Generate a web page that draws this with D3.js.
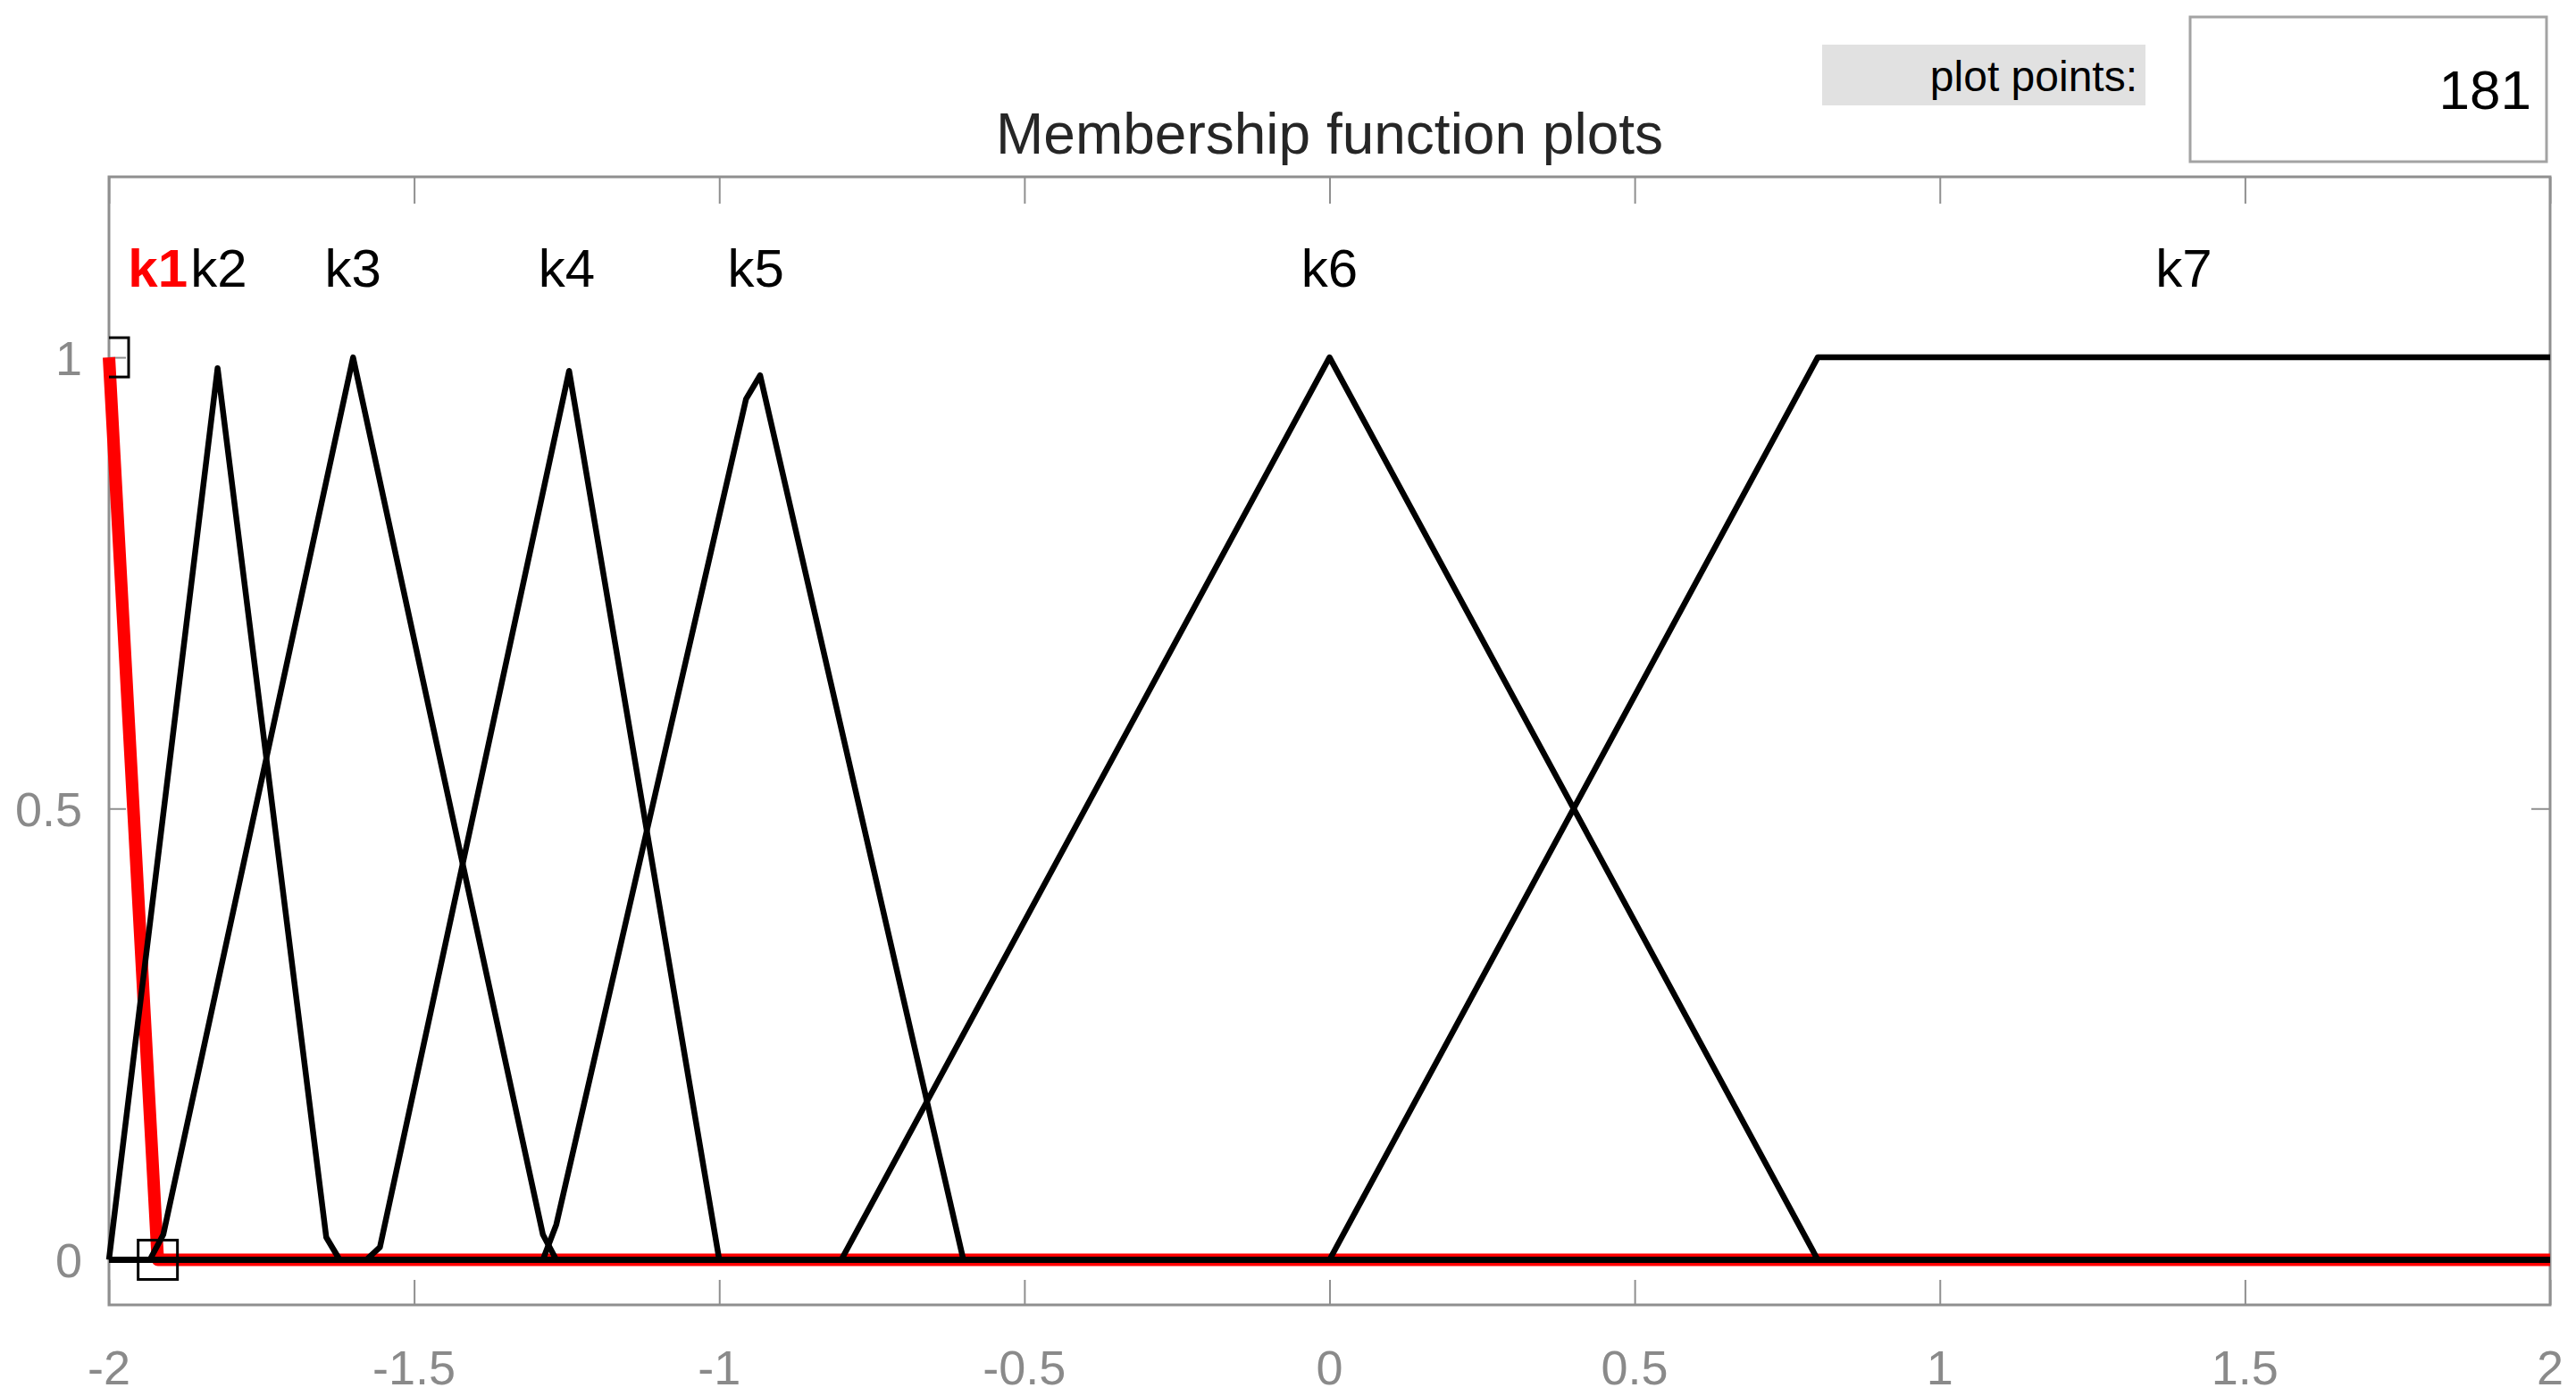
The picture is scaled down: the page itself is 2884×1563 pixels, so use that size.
<!DOCTYPE html>
<html>
<head>
<meta charset="utf-8">
<script src="https://cdn.jsdelivr.net/npm/d3@7"></script>
<style>
  body { margin: 0; background: #fff; }
  text { font-family: "Liberation Sans", Arial, sans-serif; }
</style>
</head>
<body>
<div id="chart"></div>
<script>
// membership functions, vertices (181 plot points)
const mfNames = ["k1", "k2", "k3", "k4", "k5", "k6", "k7"];
const labelX = [-1.92, -1.82, -1.6, -1.25, -0.94, 0, 1.4];
const k1Pts = [[-2, 1], [-1.92, 0], [2, 0]];
const k2Pts = [[-2, 0], [-1.822, 0.988], [-1.644, 0.025], [-1.622, 0], [2, 0]];
const k3Pts = [[-2, 0], [-1.933, 0], [-1.911, 0.028], [-1.6, 1], [-1.289, 0.028], [-1.267, 0], [2, 0]];
const k4Pts = [[-2, 0], [-1.578, 0], [-1.556, 0.014], [-1.246, 0.985], [-1.0, 0], [2, 0]];
const k5Pts = [[-2, 0], [-1.289, 0], [-1.267, 0.039], [-0.956, 0.954], [-0.933, 0.98], [-0.6, 0], [2, 0]];
const k6Pts = [[-2, 0], [-0.8, 0], [0, 1], [0.8, 0], [2, 0]];
const k7Pts = [[-2, 0], [0, 0], [0.8, 1], [2, 1]];
const selectedMarks = [[-2, 1], [-1.92, 0]];

const xTicks = [-2, -1.5, -1, -0.5, 0, 0.5, 1, 1.5, 2];
const yTicks = [0, 0.5, 1];
const plotPoints = "181";

const width = 2884;
const height = 1563;
const plotLeft = 122, plotRight = 2855, plotTop = 198, plotBottom = 1461;

const x = d3.scaleLinear().domain([-2, 2]).range([plotLeft, plotRight]);
const y = d3.scaleLinear().domain([-0.05, 1.2]).range([plotBottom, plotTop]);

const svg = d3.select("#chart")
    .append("svg")
    .attr("width", width)
    .attr("height", height);

svg.append("defs").append("clipPath")
    .attr("id", "plotclip")
    .append("rect")
    .attr("x", plotLeft).attr("y", plotTop)
    .attr("width", plotRight - plotLeft).attr("height", plotBottom - plotTop);

// axes box
svg.append("rect")
    .attr("x", plotLeft).attr("y", plotTop)
    .attr("width", plotRight - plotLeft).attr("height", plotBottom - plotTop)
    .attr("fill", "#fff")
    .attr("stroke", "#8f8f8f")
    .attr("stroke-width", 3);

// ticks (inside, mirrored)
const tickColor = "#8f8f8f";
const xAxisBottom = d3.axisBottom(x).tickValues(xTicks).tickSize(-28).tickFormat("");
const xAxisTop = d3.axisTop(x).tickValues(xTicks).tickSize(-30).tickFormat("");
const yAxisLeft = d3.axisLeft(y).tickValues(yTicks).tickSize(-19).tickFormat("");
const yAxisRight = d3.axisRight(y).tickValues(yTicks).tickSize(-21).tickFormat("");

function styleAxis(g) {
    g.select(".domain").remove();
    g.selectAll(".tick line").attr("stroke", tickColor).attr("stroke-width", 2);
}
svg.append("g").attr("transform", `translate(0,${plotBottom})`).call(xAxisBottom).call(styleAxis);
svg.append("g").attr("transform", `translate(0,${plotTop})`).call(xAxisTop).call(styleAxis);
svg.append("g").attr("transform", `translate(${plotLeft},0)`).call(yAxisLeft).call(styleAxis);
svg.append("g").attr("transform", `translate(${plotRight},0)`).call(yAxisRight).call(styleAxis);

// tick labels
svg.append("g").selectAll("text")
    .data(xTicks)
    .enter()
    .append("text")
    .attr("x", d => x(d))
    .attr("y", 1550)
    .attr("text-anchor", "middle")
    .attr("font-size", 54)
    .attr("fill", "#8a8a8a")
    .text(d => d);

svg.append("g").selectAll("text")
    .data(yTicks)
    .enter()
    .append("text")
    .attr("x", 92)
    .attr("y", d => y(d))
    .attr("dy", "0.36em")
    .attr("text-anchor", "end")
    .attr("font-size", 54)
    .attr("fill", "#8a8a8a")
    .text(d => d);

// curves
const line = d3.line()
    .x(d => x(d[0]))
    .y(d => y(d[1]));

const blackCurves = [k2Pts, k3Pts, k4Pts, k5Pts, k6Pts, k7Pts];

svg.append("path")
    .datum(k1Pts)
    .attr("d", line)
    .attr("fill", "none")
    .attr("stroke", "#ff0000")
    .attr("stroke-width", 14)
    .attr("stroke-linejoin", "round");

svg.append("g").selectAll("path")
    .data(blackCurves)
    .enter()
    .append("path")
    .attr("d", line)
    .attr("fill", "none")
    .attr("stroke", "#000")
    .attr("stroke-width", 6.5)
    .attr("stroke-linejoin", "round");

// vertex squares of the selected function
svg.append("g")
    .attr("clip-path", "url(#plotclip)")
    .selectAll("rect")
    .data(selectedMarks)
    .enter()
    .append("rect")
    .attr("x", d => x(d[0]) - 22)
    .attr("y", d => y(d[1]) - 22)
    .attr("width", 44)
    .attr("height", 44)
    .attr("fill", "none")
    .attr("stroke", "#000")
    .attr("stroke-width", 3);

// mf labels
svg.append("g").selectAll("text")
    .data(mfNames)
    .enter()
    .append("text")
    .attr("x", (d, i) => x(labelX[i]))
    .attr("y", y(1.1))
    .attr("dy", "0.36em")
    .attr("text-anchor", "middle")
    .attr("font-size", 60)
    .attr("font-weight", (d, i) => i === 0 ? "bold" : "normal")
    .attr("fill", (d, i) => i === 0 ? "#ff0000" : "#000")
    .text(d => d);

// title
svg.append("text")
    .attr("x", (plotLeft + plotRight) / 2)
    .attr("y", 172)
    .attr("text-anchor", "middle")
    .attr("font-size", 64)
    .attr("fill", "#262626")
    .text("Membership function plots");

// plot points control
svg.append("rect")
    .attr("x", 2040).attr("y", 50)
    .attr("width", 362).attr("height", 68)
    .attr("fill", "#e1e1e1");
svg.append("text")
    .attr("x", 2393).attr("y", 102)
    .attr("text-anchor", "end")
    .attr("font-size", 48)
    .attr("fill", "#000")
    .text("plot points:");

svg.append("rect")
    .attr("x", 2452).attr("y", 19)
    .attr("width", 399).attr("height", 162)
    .attr("fill", "#fff")
    .attr("stroke", "#a3a3a3")
    .attr("stroke-width", 3);
svg.append("text")
    .attr("x", 2834).attr("y", 122)
    .attr("text-anchor", "end")
    .attr("font-size", 62)
    .attr("fill", "#000")
    .text(plotPoints);
</script>
</body>
</html>
